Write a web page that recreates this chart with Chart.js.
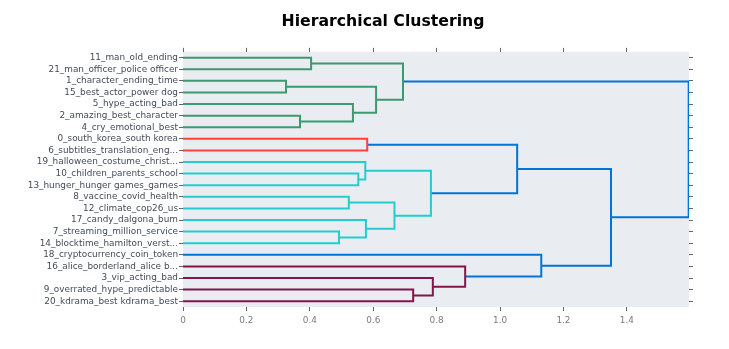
<!DOCTYPE html>
<html>
<head>
<meta charset="utf-8">
<script src="https://cdn.jsdelivr.net/npm/chart.js@4"></script>
<style>
  html, body { margin: 0; padding: 0; background: #fff; }
  #wrap { width: 729px; height: 349px; }
</style>
</head>
<body>
<div id="wrap"><canvas id="dendroChart" width="729" height="349"></canvas></div>
<script>
// leaves, top to bottom
const topicLabels = [
    '11_man_old_ending',
    '21_man_officer_police officer',
    '1_character_ending_time',
    '15_best_actor_power dog',
    '5_hype_acting_bad',
    '2_amazing_best_character',
    '4_cry_emotional_best',
    '0_south_korea_south korea',
    '6_subtitles_translation_eng...',
    '19_halloween_costume_christ...',
    '10_children_parents_school',
    '13_hunger_hunger games_games',
    '8_vaccine_covid_health',
    '12_climate_cop26_us',
    '17_candy_dalgona_bum',
    '7_streaming_million_service',
    '14_blocktime_hamilton_verst...',
    '18_cryptocurrency_coin_token',
    '16_alice_borderland_alice b...',
    '3_vip_acting_bad',
    '9_overrated_hype_predictable',
    '20_kdrama_best kdrama_best'
];

// merges: node id of merge k is topicLabels.length + k
const mergeLeft   = [0, 2, 5, 4, 23, 22, 7, 10, 9, 12, 15, 14, 31, 30, 28, 20, 19, 18, 17, 36, 27];
const mergeRight  = [1, 3, 6, 24, 25, 26, 8, 11, 29, 13, 16, 32, 33, 34, 35, 21, 37, 38, 39, 40, 41];
const mergeHeight = [0.404, 0.325, 0.369, 0.536, 0.609, 0.694, 0.581, 0.553, 0.575, 0.523, 0.492,
                     0.577, 0.667, 0.782, 1.054, 0.726, 0.788, 0.890, 1.130, 1.350, 1.595];
const mergeCluster = ['green', 'green', 'green', 'green', 'green', 'green', 'red', 'cyan', 'cyan', 'cyan', 'cyan',
                      'cyan', 'cyan', 'cyan', 'above', 'maroon', 'maroon', 'maroon', 'above', 'above', 'above'];

const xTickStep = 0.2;
const xMax = 1.596;

const clusterColors = {
    green: 'rgb(61,153,112)',
    red: 'rgb(255,65,54)',
    cyan: 'rgb(35,205,205)',
    maroon: 'rgb(133,20,75)',
    above: 'rgb(0,116,217)'
};

// build one U-shaped link per merge
function buildLinks() {
    const n = topicLabels.length;
    const nodeX = [], nodeY = [];
    topicLabels.forEach((_, i) => { nodeX[i] = 0; nodeY[i] = i; });
    const sets = [];
    mergeLeft.forEach((a, k) => {
        const b = mergeRight[k];
        const h = mergeHeight[k];
        nodeX[n + k] = h;
        nodeY[n + k] = (nodeY[a] + nodeY[b]) / 2;
        sets.push({
            data: [
                { x: nodeX[a], y: nodeY[a] },
                { x: h, y: nodeY[a] },
                { x: h, y: nodeY[b] },
                { x: nodeX[b], y: nodeY[b] }
            ],
            showLine: true,
            borderColor: clusterColors[mergeCluster[k]],
            borderWidth: 2,
            pointRadius: 0,
            pointHoverRadius: 0,
            tension: 0,
            fill: false,
            xAxisID: 'x',
            yAxisID: 'y'
        });
    });
    return sets;
}

const plotBackground = {
    id: 'plotBackground',
    beforeDraw(chart) {
        const { ctx, chartArea: a } = chart;
        ctx.save();
        ctx.fillStyle = '#e9ecf0';
        ctx.fillRect(a.left, a.top, a.right - a.left, a.bottom - a.top);
        ctx.restore();
    }
};

// the figure title sits a bit left of the plot centre, like the original figure
const titleShift = {
    id: 'titleShift',
    afterLayout(chart) {
        if (chart.titleBlock) {
            chart.titleBlock.left = 72;
            chart.titleBlock.right = 694;
        }
    }
};

const leafTicks = (axis) => { axis.ticks = topicLabels.map((_, i) => ({ value: i })); };
const tickGrid = { drawOnChartArea: false, drawTicks: true, tickLength: 4, color: '#666', lineWidth: 1 };

let dendroChart;

window.onload = function() {
    const ctx = document.getElementById('dendroChart').getContext('2d');
    dendroChart = new Chart(ctx, {
        type: 'scatter',
        data: { datasets: buildLinks() },
        options: {
            responsive: false,
            animation: false,
            events: [],
            layout: { padding: { left: 0, right: 35, top: 0, bottom: 20 } },
            plugins: {
                legend: { display: false },
                tooltip: { enabled: false },
                title: {
                    display: true,
                    text: 'Hierarchical Clustering',
                    color: '#000',
                    font: { family: 'DejaVu Sans', size: 15.7, weight: 'bold' },
                    padding: { top: 13, bottom: 15 }
                }
            },
            scales: {
                x: {
                    type: 'linear',
                    position: 'bottom',
                    min: 0,
                    max: xMax,
                    border: { display: false },
                    grid: tickGrid,
                    ticks: {
                        stepSize: xTickStep,
                        includeBounds: false,
                        padding: 4,
                        maxRotation: 0,
                        color: '#767b84',
                        font: { family: 'DejaVu Sans', size: 8.9 }
                    },
                    afterFit: (s) => { s.height = 22; }
                },
                x2: {
                    type: 'linear',
                    position: 'top',
                    min: 0,
                    max: xMax,
                    border: { display: false },
                    grid: tickGrid,
                    ticks: { stepSize: xTickStep, includeBounds: false, display: false },
                    afterFit: (s) => { s.height = 5; }
                },
                y: {
                    type: 'linear',
                    position: 'left',
                    reverse: true,
                    min: -0.5,
                    max: topicLabels.length - 0.5,
                    border: { display: false },
                    grid: tickGrid,
                    afterBuildTicks: leafTicks,
                    ticks: {
                        autoSkip: false,
                        padding: 1,
                        color: '#434b5a',
                        font: { family: 'DejaVu Sans', size: 8.9 },
                        callback: (v) => topicLabels[v]
                    },
                    afterFit: (s) => { s.width = 183; }
                },
                y2: {
                    type: 'linear',
                    position: 'right',
                    reverse: true,
                    min: -0.5,
                    max: topicLabels.length - 0.5,
                    border: { display: false },
                    grid: tickGrid,
                    afterBuildTicks: leafTicks,
                    ticks: { autoSkip: false, display: false },
                    afterFit: (s) => { s.width = 5; }
                }
            }
        },
        plugins: [plotBackground, titleShift]
    });
};
</script>
</body>
</html>
